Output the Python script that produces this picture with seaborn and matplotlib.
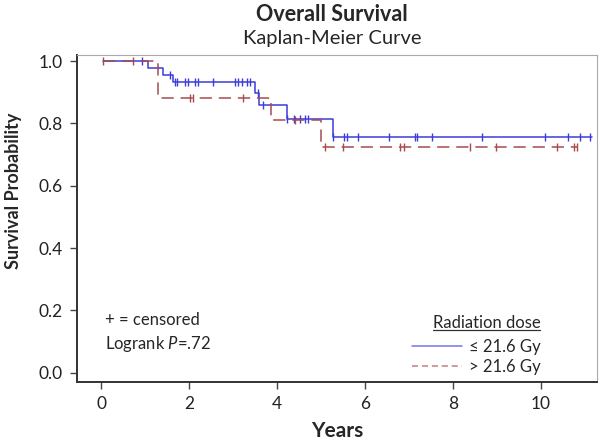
import numpy as np
import pandas as pd
import matplotlib.pyplot as plt
import seaborn as sns
from matplotlib.lines import Line2D

# Kaplan-Meier steps (years, survival probability)
low_times = [0.05, 1.07, 1.41, 1.64, 3.50, 3.59, 4.23, 5.27]
low_surv = [1.0, 0.977, 0.956, 0.933, 0.899, 0.858, 0.815, 0.758]
low_end = 11.16
low_censor = [0.93, 1.57, 1.68, 1.73, 1.91, 1.98, 2.14, 2.20, 2.55, 3.05, 3.11,
              3.20, 3.32, 3.39, 3.57, 3.68, 4.23, 4.39, 4.52, 4.64, 4.70, 5.27,
              5.52, 5.59, 5.84, 6.55, 7.14, 7.18, 7.52, 8.66, 10.09, 10.61,
              10.89, 11.11]

high_times = [0.05, 1.30, 3.86, 5.00]
high_surv = [1.0, 0.882, 0.810, 0.724]
high_end = 10.84
high_censor = [0.05, 0.73, 2.02, 2.09, 3.23, 4.41, 5.09, 5.50, 6.80, 6.89,
               8.39, 8.98, 10.36, 10.75, 10.82]

group_labels = ["\u2264 21.6 Gy", "> 21.6 Gy"]
x_ticks = [0, 2, 4, 6, 8, 10]
y_ticks = [0.0, 0.2, 0.4, 0.6, 0.8, 1.0]

sns.set_theme(style="ticks")
plt.rcParams['font.family'] = ['Lato', 'DejaVu Sans']
plt.rcParams['mathtext.fontset'] = 'custom'
plt.rcParams['mathtext.rm'] = 'Lato'
plt.rcParams['mathtext.it'] = 'Lato:italic'

colors = ['#3c3cdc', '#a84a4e']
dashes = ['', (8, 4.5)]

fig = plt.figure(figsize=(6, 4.42), dpi=100)
ax = fig.add_axes([0.1275, 0.1357, 0.8675, 0.74])

groups = [(low_times, low_surv, low_end, low_censor),
          (high_times, high_surv, high_end, high_censor)]

for i, (t, s, end, cens) in enumerate(groups):
    curve = pd.DataFrame({'time': list(t) + [end], 'surv': list(s) + [s[-1]]})
    sns.lineplot(data=curve, x='time', y='surv', ax=ax, color=colors[i],
                 drawstyle='steps-post', estimator=None, sort=False,
                 linewidth=1.1, legend=False)
    if dashes[i]:
        ax.lines[-1].set_dashes(dashes[i])
    # censor marks sit on the curve value at that time
    idx = np.searchsorted(t, cens, side='right') - 1
    cens_df = pd.DataFrame({'time': cens, 'surv': np.array(s)[idx]})
    sns.scatterplot(data=cens_df, x='time', y='surv', ax=ax, marker='|',
                    s=36, linewidth=1.0, color=colors[i], legend=False)

ax.set_xlim(-0.56, 11.27)
ax.set_ylim(-0.03, 1.02)
ax.set_xticks(x_ticks)
ax.set_yticks(y_ticks)
ax.set_yticklabels([f"{v:.1f}" for v in y_ticks])
ax.tick_params(axis='both', labelsize=12.5, length=5, width=1, color='#444444',
               labelcolor='#222222', pad=5)

ax.set_xlabel('Years', fontsize=15, fontweight='bold', labelpad=6.5)
ax.set_ylabel('Survival Probability', fontsize=13, fontweight='bold')
ax.yaxis.set_label_coords(-0.104, 0.584)

for side in ['left', 'bottom']:
    ax.spines[side].set_color('#333333')
    ax.spines[side].set_linewidth(1.4)
for side in ['top', 'right']:
    ax.spines[side].set_color('#aaaaaa')
    ax.spines[side].set_linewidth(0.8)

fig.text(0.553, 0.968, 'Overall Survival', ha='center', va='center',
         fontsize=15.5, fontweight='bold')
fig.text(0.553, 0.914, 'Kaplan-Meier Curve', ha='center', va='center',
         fontsize=14.5)

ax.text(0.054, 0.15, '+ = censored\nLogrank $\\mathit{P}$=.72', transform=ax.transAxes,
        ha='left', va='center', fontsize=12, linespacing=1.35)

handles = [Line2D([], [], color=colors[0], lw=1.1, alpha=0.7),
           Line2D([], [], color=colors[1], lw=1.1, alpha=0.7, dashes=(4, 2.5))]
leg = ax.legend(handles, group_labels, loc='lower right',
                bbox_to_anchor=(0.92, -0.025), frameon=False, fontsize=12,
                title='Radiation dose', title_fontsize=12,
                handlelength=3.0, handletextpad=0.4, labelspacing=0.25,
                alignment='right')
leg._legend_box.sep = 6

# underline the legend title
fig.canvas.draw()
bb = leg.get_title().get_window_extent().transformed(fig.transFigure.inverted())
fig.add_artist(Line2D([bb.x0, bb.x1], [bb.y0 + 0.002, bb.y0 + 0.002],
                      color='#333333', lw=0.9, transform=fig.transFigure))

fig.savefig('out.png', dpi=100)
